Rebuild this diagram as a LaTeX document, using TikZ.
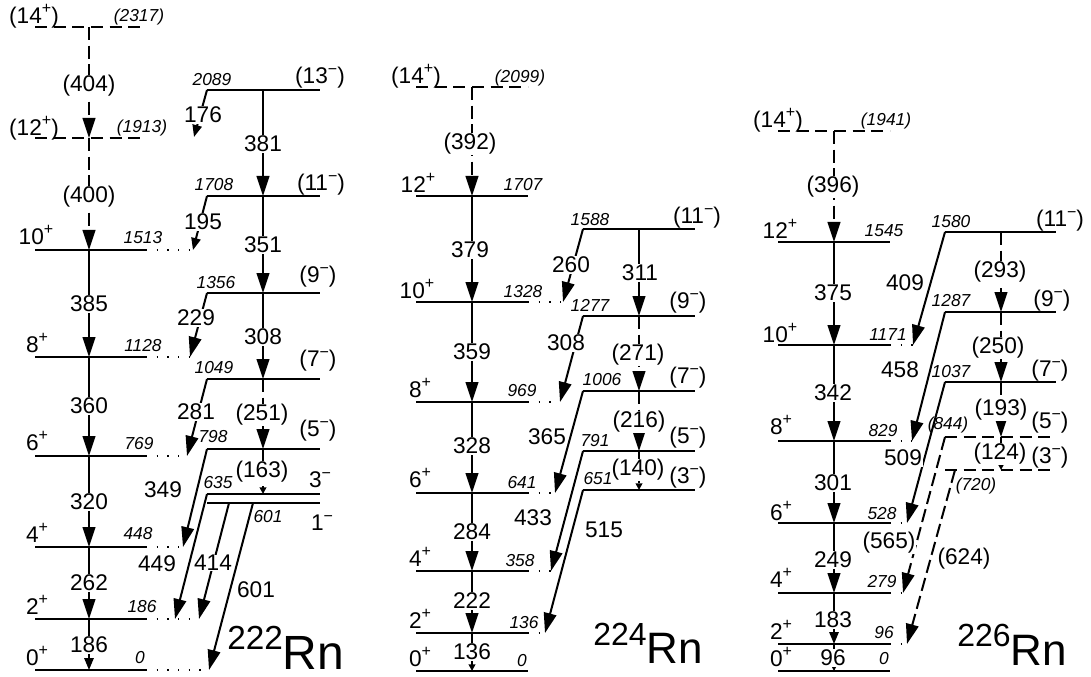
\documentclass[tikz,border=0pt]{standalone}
\usepackage{fontspec}
\setmainfont{Liberation Sans}
\usetikzlibrary{arrows.meta}
\newcommand\spP{\raisebox{0.42em}{\fontsize{12}{12}\selectfont +}}
\newcommand\spM{\raisebox{0.42em}{\fontsize{12}{12}\selectfont −}}
\newcommand\deflev[5]{\coordinate (#1L) at (#2,#5);\coordinate (#1R) at (#3,#5);\coordinate (#1M) at (#4,#5);}
\tikzset{
 lvl/.style={line width=0.9pt},
 lvld/.style={line width=0.9pt, dash pattern=on 9pt off 5pt},
 ext/.style={line width=1pt, dash pattern=on 1pt off 7pt},
 tr/.style={line width=1.5pt, -{Triangle[length=15pt,width=9.5pt]}},
 trm/.style={line width=1.5pt, -{Triangle[length=9pt,width=7pt]}},
 trs/.style={line width=1.5pt, -{Triangle[length=5pt,width=5pt]}},
 dsh/.style={dash pattern=on 10pt off 4pt},
 tl/.style={font=\fontsize{17}{17}\selectfont, fill=white, inner sep=0.5pt},
 sp/.style={font=\fontsize{17}{17}\selectfont, inner sep=0pt},
 en/.style={font=\fontsize{13}{13}\selectfont\itshape, inner sep=0pt},
 ttl/.style={anchor=base west, inner sep=0pt}
}
\begin{document}
\begin{tikzpicture}[x=0.75pt,y=-0.75pt]
\useasboundingbox (0,0) rectangle (1091,677);
% ================= 222Rn =================
\deflev{A14}{35}{146}{89}{27}
\deflev{A12}{35}{146}{89}{138}
\deflev{A10}{35}{146}{89}{250}
\deflev{A8}{35}{146}{89}{357}
\deflev{A6}{35}{146}{89}{456}
\deflev{A4}{35}{146}{89}{547}
\deflev{A2}{35}{146}{89}{619}
\deflev{A0}{35}{146}{89}{670}
\coordinate (A10E) at (193,250);
\coordinate (A8E) at (190,357);
\coordinate (A6E) at (187,456);
\coordinate (A4E) at (183,547);
\coordinate (A2E) at (199,619);
\coordinate (A0E) at (209,670);
\deflev{B13}{207}{320}{263}{90}
\deflev{B11}{207}{320}{263}{196}
\deflev{B9}{207}{320}{263}{293}
\deflev{B7}{207}{320}{263}{379}
\deflev{B5}{207}{320}{263}{449}
\deflev{B3}{207}{320}{263}{494}
\deflev{B1}{207}{320}{263}{503}
\coordinate (t176e) at (194,137);
\coordinate (t449e) at (175,619);
\coordinate (t414s) at (229,503);
\coordinate (t601s) at (253,503);
\draw[lvld] (A14L) -- (A14R);
\draw[lvld] (A12L) -- (A12R);
\foreach \n in {A10,A8,A6,A4,A2,A0} {\draw[lvl] (\n L) -- (\n R); \draw[ext] (\n R) -- (\n E);}
\foreach \n in {B13,B11,B9,B7,B5,B3,B1} {\draw[lvl] (\n L) -- (\n R);}
\draw[tr,dsh] (A14M) -- (A12M);
\draw[tr,dsh] (A12M) -- (A10M);
\draw[tr] (A10M) -- (A8M);
\draw[tr] (A8M) -- (A6M);
\draw[tr] (A6M) -- (A4M);
\draw[tr] (A4M) -- (A2M);
\draw[trm] (A2M) -- (A0M);
\draw[tr] (B13M) -- (B11M);
\draw[tr] (B11M) -- (B9M);
\draw[tr] (B9M) -- (B7M);
\draw[tr,dsh] (B7M) -- (B5M);
\draw[trs,dsh] (B5M) -- (B3M);
\draw[trm] (B13L) -- (t176e);
\draw[trm] (B11L) -- (A10E);
\draw[tr] (B9L) -- (A8E);
\draw[tr] (B7L) -- (A6E);
\draw[tr] (B5L) -- (A4E);
\draw[tr] (B3L) -- (t449e);
\draw[tr] (t601s) -- (A0E);
\draw[tr] (t414s) -- (A2E);
% labels 222
\node[sp] (sA14) at (34,16) {(14\spP)};
\node[en] (eA14) at (139,17) {(2317)};
\node[sp] (sA12) at (34,128) {(12\spP)};
\node[en] (eA12) at (142,128) {(1913)};
\node[sp] (sA10) at (36,235) {10\spP};
\node[en] (eA10) at (143,238) {1513};
\node[sp] (sA8) at (37,343) {8\spP};
\node[en] (eA8) at (143,346) {1128};
\node[sp] (sA6) at (37,441) {6\spP};
\node[en] (eA6) at (139,444) {769};
\node[sp] (sA4) at (37,533) {4\spP};
\node[en] (eA4) at (138,534) {448};
\node[sp] (sA2) at (37,605) {2\spP};
\node[en] (eA2) at (142,607) {186};
\node[sp] (sA0) at (37,656) {0\spP};
\node[en] (eA0) at (140,658) {0};
\node[en] (eB13) at (212,80) {2089};
\node[sp] (sB13) at (320,78) {(13\spM)};
\node[en] (eB11) at (214,185) {1708};
\node[sp] (sB11) at (321,185) {(11\spM)};
\node[en] (eB9) at (216,283) {1356};
\node[sp] (sB9) at (318,277) {(9\spM)};
\node[en] (eB7) at (214,368) {1049};
\node[sp] (sB7) at (318,361) {(7\spM)};
\node[en] (eB5) at (213,437) {798};
\node[sp] (sB5) at (318,431) {(5\spM)};
\node[en] (eB3) at (218,483) {635};
\node[sp] (sB3) at (320,480) {3\spM};
\node[en] (eB1) at (268,517) {601};
\node[sp] (sB1) at (322,523) {1\spM};
\node[tl] (g404) at (89,86) {(404)};
\node[tl] (g400) at (89,197) {(400)};
\node[tl] (g385) at (89,304) {385};
\node[tl] (g360) at (89,406) {360};
\node[tl] (g320) at (89,502) {320};
\node[tl] (g262) at (89,583) {262};
\node[tl] (g186) at (89,645) {186};
\node[tl] (g381) at (263,144) {381};
\node[tl] (g351) at (263,245) {351};
\node[tl] (g308) at (263,337) {308};
\node[tl] (g251) at (262,415) {(251)};
\node[tl] (g163) at (262,472) {(163)};
\node[tl] (g176) at (203,115) {176};
\node[tl] (g195) at (203,222) {195};
\node[tl] (g229) at (196,318) {229};
\node[tl] (g281) at (196,412) {281};
\node[tl] (g349) at (163,490) {349};
\node[tl] (g449) at (157,564) {449};
\node[tl] (g414) at (213,563) {414};
\node[tl] (g601) at (256,590) {601};
\node[ttl] (T222) at (227,669) {\raisebox{15pt}{\fontsize{25}{25}\selectfont 222}\fontsize{36}{36}\selectfont Rn};
% ================= 224Rn =================
\deflev{C14}{416}{528}{472}{87}
\deflev{C12}{416}{528}{472}{196}
\deflev{C10}{416}{528}{472}{302}
\deflev{C8}{416}{528}{472}{402}
\deflev{C6}{416}{528}{472}{493}
\deflev{C4}{416}{528}{472}{571}
\deflev{C2}{416}{528}{472}{633}
\deflev{C0}{416}{528}{472}{671}
\coordinate (C10E) at (563,302);
\coordinate (C8E) at (560,402);
\coordinate (C6E) at (555,493);
\coordinate (C4E) at (551,571);
\coordinate (C2E) at (545,633);
\deflev{D11}{583}{695}{639}{229}
\deflev{D9}{583}{695}{639}{316}
\deflev{D7}{583}{695}{639}{391}
\deflev{D5}{583}{695}{639}{451}
\deflev{D3}{583}{695}{639}{490}
\draw[lvld] (C14L) -- (C14R);
\foreach \n in {C12,C0} {\draw[lvl] (\n L) -- (\n R);}
\foreach \n in {C10,C8,C6,C4,C2} {\draw[lvl] (\n L) -- (\n R); \draw[ext] (\n R) -- (\n E);}
\foreach \n in {D11,D9,D7,D5,D3} {\draw[lvl] (\n L) -- (\n R);}
\draw[tr,dsh] (C14M) -- (C12M);
\draw[tr] (C12M) -- (C10M);
\draw[tr] (C10M) -- (C8M);
\draw[tr] (C8M) -- (C6M);
\draw[tr] (C6M) -- (C4M);
\draw[tr] (C4M) -- (C2M);
\draw[trs] (C2M) -- (C0M);
\draw[tr] (D11M) -- (D9M);
\draw[tr,dsh] (D9M) -- (D7M);
\draw[tr,dsh] (D7M) -- (D5M);
\draw[trs,dsh] (D5M) -- (D3M);
\draw[tr] (D11L) -- (C10E);
\draw[tr] (D9L) -- (C8E);
\draw[tr] (D7L) -- (C6E);
\draw[tr] (D5L) -- (C4E);
\draw[tr] (D3L) -- (C2E);
\node[sp] (sC14) at (416,76) {(14\spP)};
\node[en] (eC14) at (520,78) {(2099)};
\node[sp] (sC12) at (418,183) {12\spP};
\node[en] (eC12) at (523,185) {1707};
\node[sp] (sC10) at (417,289) {10\spP};
\node[en] (eC10) at (523,292) {1328};
\node[sp] (sC8) at (420,388) {8\spP};
\node[en] (eC8) at (522,391) {969};
\node[sp] (sC6) at (420,478) {6\spP};
\node[en] (eC6) at (522,483) {641};
\node[sp] (sC4) at (420,557) {4\spP};
\node[en] (eC4) at (520,561) {358};
\node[sp] (sC2) at (420,619) {2\spP};
\node[en] (eC2) at (524,623) {136};
\node[sp] (sC0) at (420,657) {0\spP};
\node[en] (eC0) at (522,661) {0};
\node[en] (eD11) at (590,220) {1588};
\node[sp] (sD11) at (697,218) {(11\spM)};
\node[en] (eD9) at (590,305) {1277};
\node[sp] (sD9) at (688,303) {(9\spM)};
\node[en] (eD7) at (602,380) {1006};
\node[sp] (sD7) at (688,378) {(7\spM)};
\node[en] (eD5) at (595,441) {791};
\node[sp] (sD5) at (688,438) {(5\spM)};
\node[en] (eD3) at (598,479) {651};
\node[sp] (sD3) at (688,478) {(3\spM)};
\node[tl] (h392) at (470,144) {(392)};
\node[tl] (h379) at (470,250) {379};
\node[tl] (h359) at (472,352) {359};
\node[tl] (h328) at (472,446) {328};
\node[tl] (h284) at (472,532) {284};
\node[tl] (h222) at (472,601) {222};
\node[tl] (h136) at (472,652) {136};
\node[tl] (h311) at (640,273) {311};
\node[tl] (h271) at (638,355) {(271)};
\node[tl] (h216) at (639,422) {(216)};
\node[tl] (h140) at (638,470) {(140)};
\node[tl] (h260) at (571,265) {260};
\node[tl] (h308) at (566,343) {308};
\node[tl] (h365) at (547,437) {365};
\node[tl] (h433) at (533,518) {433};
\node[tl] (h515) at (604,530) {515};
\node[ttl] (T224) at (593,663) {\raisebox{13pt}{\fontsize{24}{24}\selectfont 224}\fontsize{33}{33}\selectfont Rn};
% ================= 226Rn =================
\deflev{E14}{778}{890}{834}{131}
\deflev{E12}{778}{890}{834}{242}
\deflev{E10}{778}{890}{834}{345}
\deflev{E8}{778}{890}{834}{441}
\deflev{E6}{778}{890}{834}{523}
\deflev{E4}{778}{890}{834}{593}
\deflev{E2}{778}{890}{834}{644}
\deflev{E0}{778}{890}{834}{671}
\coordinate (E10E) at (913,345);
\coordinate (E8E) at (912,441);
\coordinate (E6E) at (907,523);
\coordinate (E4E) at (903,593);
\coordinate (E2E) at (907,644);
\deflev{F11}{945}{1056}{1001}{232}
\deflev{F9}{945}{1056}{1001}{312}
\deflev{F7}{945}{1056}{1001}{382}
\deflev{F5}{945}{1056}{1001}{437}
\deflev{F3}{945}{1056}{1001}{470}
\coordinate (t624s) at (955,470);
\draw[lvld] (E14L) -- (E14R);
\foreach \n in {E12,E0} {\draw[lvl] (\n L) -- (\n R);}
\foreach \n in {E10,E8,E6,E4,E2} {\draw[lvl] (\n L) -- (\n R); \draw[ext] (\n R) -- (\n E);}
\foreach \n in {F11,F9,F7} {\draw[lvl] (\n L) -- (\n R);}
\foreach \n in {F5,F3} {\draw[lvld] (\n L) -- (\n R);}
\draw[tr,dsh] (E14M) -- (E12M);
\draw[tr] (E12M) -- (E10M);
\draw[tr] (E10M) -- (E8M);
\draw[tr] (E8M) -- (E6M);
\draw[tr] (E6M) -- (E4M);
\draw[trm] (E4M) -- (E2M);
\draw[trs] (E2M) -- (E0M);
\draw[tr,dsh] (F11M) -- (F9M);
\draw[tr,dsh] (F9M) -- (F7M);
\draw[tr,dsh] (F7M) -- (F5M);
\draw[trs,dsh] (F5M) -- (F3M);
\draw[tr] (F11L) -- (E10E);
\draw[tr] (F9L) -- (E8E);
\draw[tr] (F7L) -- (E6E);
\draw[tr,dsh] (F5L) -- (E4E);
\draw[tr,dsh] (t624s) -- (E2E);
\node[sp] (sE14) at (778,120) {(14\spP)};
\node[en] (eE14) at (886,121) {(1941)};
\node[sp] (sE12) at (780,229) {12\spP};
\node[en] (eE12) at (884,231) {1545};
\node[sp] (sE10) at (780,333) {10\spP};
\node[en] (eE10) at (888,335) {1171};
\node[sp] (sE8) at (781,425) {8\spP};
\node[en] (eE8) at (883,431) {829};
\node[sp] (sE6) at (781,511) {6\spP};
\node[en] (eE6) at (882,514) {528};
\node[sp] (sE4) at (781,578) {4\spP};
\node[en] (eE4) at (882,582) {279};
\node[sp] (sE2) at (781,630) {2\spP};
\node[en] (eE2) at (884,633) {96};
\node[sp] (sE0) at (781,657) {0\spP};
\node[en] (eE0) at (884,659) {0};
\node[en] (eF11) at (951,222) {1580};
\node[sp] (sF11) at (1060,221) {(11\spM)};
\node[en] (eF9) at (951,301) {1287};
\node[sp] (sF9) at (1052,301) {(9\spM)};
\node[en] (eF7) at (951,372) {1037};
\node[sp] (sF7) at (1050,371) {(7\spM)};
\node[en] (eF5) at (948,425) {(844)};
\node[sp] (sF5) at (1050,423) {(5\spM)};
\node[en] (eF3) at (976,486) {(720)};
\node[sp] (sF3) at (1050,458) {(3\spM)};
\node[tl] (k396) at (833,187) {(396)};
\node[tl] (k375) at (833,293) {375};
\node[tl] (k342) at (833,393) {342};
\node[tl] (k301) at (833,483) {301};
\node[tl] (k249) at (833,560) {249};
\node[tl] (k183) at (833,620) {183};
\node[tl] (k96) at (833,658) {96};
\node[tl] (k293) at (1000,272) {(293)};
\node[tl] (k250) at (998,348) {(250)};
\node[tl] (k193) at (1001,410) {(193)};
\node[tl] (k124) at (1000,454) {(124)};
\node[tl] (k409) at (905,283) {409};
\node[tl] (k458) at (900,370) {458};
\node[tl] (k509) at (903,458) {509};
\node[tl] (k565) at (889,543) {(565)};
\node[tl] (k624) at (964,559) {(624)};
\node[ttl] (T226) at (957,665) {\raisebox{14pt}{\fontsize{24}{24}\selectfont 226}\fontsize{33}{33}\selectfont Rn};
\end{tikzpicture}
\end{document}
